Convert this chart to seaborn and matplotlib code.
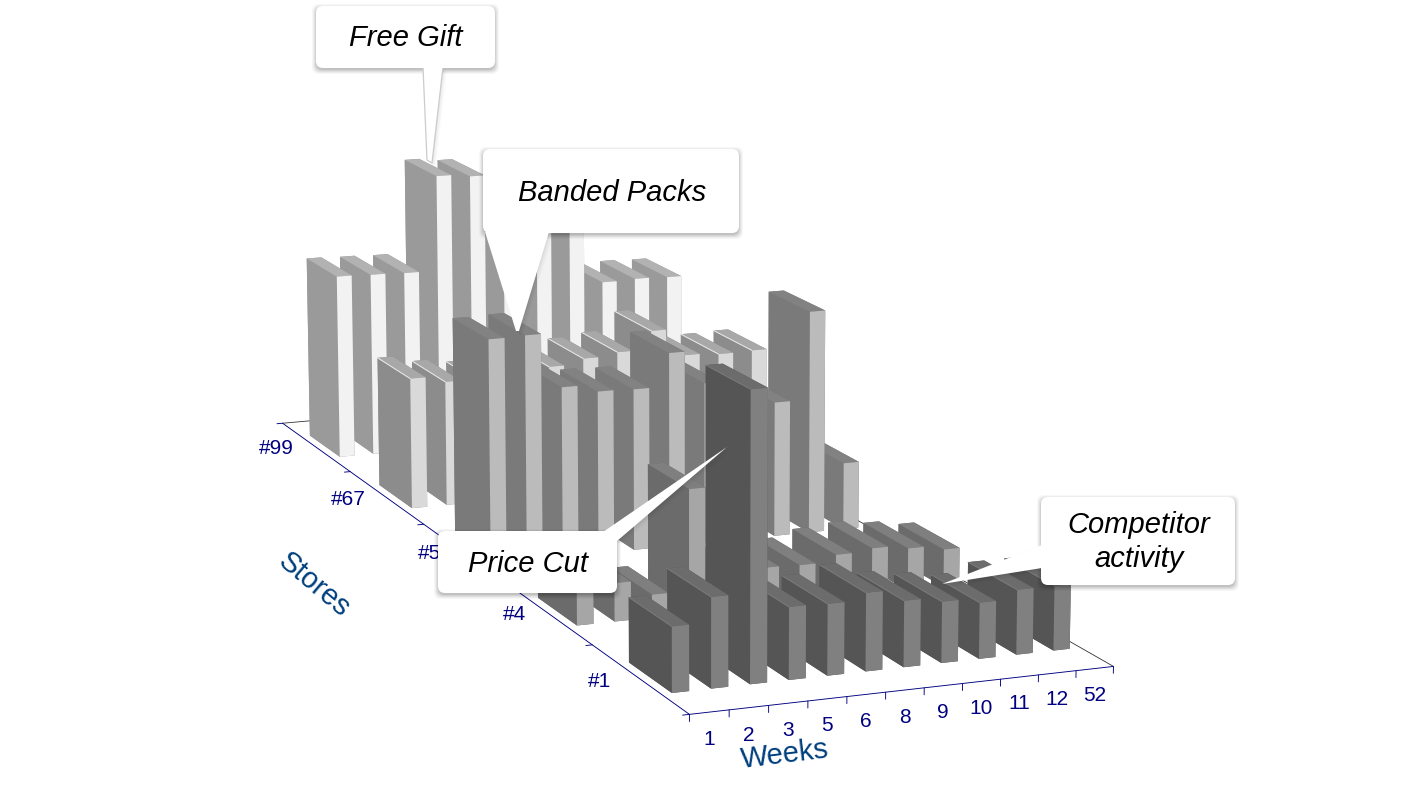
import matplotlib
matplotlib.use("Agg")
import seaborn as sns
from matplotlib import pyplot as plt
from matplotlib.patches import FancyBboxPatch, Polygon
from matplotlib.transforms import Affine2D
from mpl_toolkits.mplot3d import proj3d

sns.set_theme(style="white")
plt.rcParams['font.family'] = ['Liberation Sans', 'DejaVu Sans']

# Chart data
weeks = ["1", "2", "3", "5", "6", "8", "9", "10", "11", "12", "52"]
stores = ["#1", "#4", "#5", "#67", "#99"]

store_1 = [66, 91, 291, 73, 72, 79, 67, 62, 57, 66, 66]
store_4 = [44, 40, 24, 130, 40, 40, 39, 46, 49, 45, 40]
store_5 = [242, 243, 184, 176, 175, 211, 175, 153, 147, 243, 73]
store_67 = [146, 139, 135, 143, 146, 152, 156, 177, 146, 144, 145]
store_99 = [211, 210, 209, 319, 316, 268, 254, 280, 180, 181, 180]
sales = [store_1, store_4, store_5, store_67, store_99]

# side face, front face, top face for each store
side_colors = ["#555555", "#6b6b6b", "#7a7a7a", "#8c8c8c", "#9a9a9a"]
front_colors = ["#808080", "#a6a6a6", "#bbbbbb", "#d9d9d9", "#f2f2f2"]
top_colors = ["#6c6c6c", "#7f7f7f", "#828282", "#a8a8a8", "#b2b2b2"]
edge_colors = ["#7c7c7c", None, None, "#eeeeee", None]

# how far left of the axis each store label sits
store_label_x = [-1.03, -0.88, -0.94, -1.1, -1.18]

navy = "#000080"
title_blue = "#003f7f"

W, H = 1407, 795
bar_dx, bar_dy = 0.44, 0.44

fig = plt.figure(figsize=(W / 100, H / 100), dpi=100)
fig.patch.set_facecolor("white")

cx, cy, size = 640.31, 401.08, 1283.52
ax = fig.add_subplot(projection="3d", computed_zorder=False)
ax.set_position([(cx - size / 2) / W, (H - cy - size / 2) / H, size / W, size / H])
ax.set_xlim(0, 11, view_margin=0)
ax.set_ylim(0, 5, view_margin=0)
ax.set_zlim(0, 330, view_margin=0)
ax.view_init(12.6464, -111.2728, 0.1183)
ax.set_proj_type("persp", focal_length=0.7123)
ax.set_box_aspect((1, 2.9319, 0.7427))
ax.set_axis_off()
ax.patch.set_alpha(0)
ax.apply_aspect()

# Floor outline
n_weeks, n_stores = len(weeks), len(stores)
ax.plot([0, n_weeks], [n_stores, n_stores], [0, 0], color="#333333", lw=0.6, zorder=1)
ax.plot([n_weeks, n_weeks], [0, n_stores], [0, 0], color="#333333", lw=0.6, zorder=1)
ax.plot([0, n_weeks], [0, 0], [0, 0], color=navy, lw=0.65, zorder=1)
ax.plot([0, 0], [0, n_stores], [0, 0], color=navy, lw=0.65, zorder=1)

for i in range(n_weeks + 1):
    ax.plot([i, i], [0, 0], [-7, 0], color=navy, lw=0.65, zorder=1)
for j in range(n_stores + 1):
    ax.plot([-0.17, 0], [j, j], [0, 0], color=navy, lw=0.65, zorder=1)


# Labels go through the camera, then sit on the axes as flat text
def flat_label(x, y, z, label):
    M = ax.get_proj()
    xp, yp, _ = proj3d.proj_transform(x, y, z, M)
    ax.text2D(xp, yp, label, transform=ax.transData, color=navy, fontsize=15, ha="center", va="center")


for i, week in enumerate(weeks):
    flat_label(i + 0.5, 0, -27, week)
for j, store in enumerate(stores):
    flat_label(store_label_x[j], j + 0.5, 2, store)

# Bars, far ones first
order = 2
for j in reversed(range(n_stores)):
    hidden = side_colors[j]
    faces = [hidden, top_colors[j], front_colors[j], hidden, side_colors[j], hidden]
    for i in reversed(range(n_weeks)):
        x0, y0, h = i + 0.27, j + 0.28, sales[j][i]
        ax.bar3d(x0, y0, 0, bar_dx, bar_dy, h, color=faces, edgecolor="none", linewidth=0,
                 shade=False, zorder=order)
        order += 1
        if edge_colors[j]:
            ax.plot([x0, x0], [y0, y0 + bar_dy], [h, h], color=edge_colors[j], lw=0.7, zorder=order)
            order += 1

# Axis titles
fig.text(785 / W, 1 - 755 / H, "Weeks", color=title_blue, fontsize=21, rotation=7, ha="center", va="center")
fig.text(314 / W, 1 - 585 / H, "Stores", color=title_blue, fontsize=21, rotation=-40, ha="center", va="center",
         rotation_mode="anchor")

# Callouts sit on top in picture pixels
over = fig.add_axes([0, 0, 1, 1], zorder=10)
over.set_xlim(0, W)
over.set_ylim(H, 0)
over.axis("off")
over.patch.set_alpha(0)


def callout(left, top, right, bottom, tail, label, text_x, text_y, tail_edge="none"):
    # soft shadow under box and tail
    for grow, alpha in [(4, 0.03), (3, 0.04), (2, 0.05), (1, 0.06), (0, 0.08)]:
        over.add_patch(Polygon(tail, closed=True, facecolor="#000000", edgecolor="none", alpha=alpha / 2,
                               transform=over.transData + Affine2D().translate(grow, -grow)))
        over.add_patch(FancyBboxPatch((left + 6, top + 8), right - left - 12, bottom - top - 12,
                                      boxstyle="round,pad=%d,rounding_size=7" % (6 + grow),
                                      facecolor="#000000", edgecolor="none", alpha=alpha))
    over.add_patch(Polygon(tail, closed=True, facecolor="white", edgecolor=tail_edge, lw=0.9, joinstyle="round"))
    over.add_patch(FancyBboxPatch((left + 6, top + 6), right - left - 12, bottom - top - 12,
                                  boxstyle="round,pad=6,rounding_size=7", facecolor="white",
                                  edgecolor="none"))
    over.text(text_x, text_y, label, fontsize=21, style="italic", color="black", ha="center", va="center",
              linespacing=1.26)


callout(316, 6, 495, 68, [(423, 67), (427, 160), (432, 163), (443, 67)], "Free Gift", 406, 38, tail_edge="#cccccc")
callout(483, 149, 739, 233, [(485, 232), (516, 331), (519, 331), (549, 232)], "Banded Packs", 612, 193)
callout(438, 531, 617, 593, [(603, 532), (727, 447), (617, 541)], "Price Cut", 528, 564)
callout(1041, 497, 1235, 585, [(1042, 545), (942, 584), (1042, 568)], "Competitor\nactivity", 1139, 542)

fig.savefig("out.png", dpi=100)
